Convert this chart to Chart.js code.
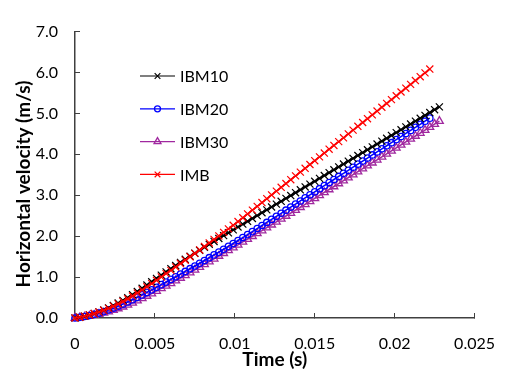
<!DOCTYPE html>
<html><head><meta charset="utf-8">
<script src="https://cdn.jsdelivr.net/npm/chart.js@4"></script>
<style>html,body{margin:0;padding:0;background:#fff}#wrap{width:516px;height:371px}</style>
</head><body><div id="wrap"><canvas id="c" width="516" height="371"></canvas></div>
<script>
// ---- data ----
const seriesNames = ['IBM10', 'IBM20', 'IBM30', 'IMB'];
const xTickValues = [0, 0.005, 0.01, 0.015, 0.02, 0.025];
const xTickLabels = ['0', '0.005', '0.01', '0.015', '0.02', '0.025'];
const yTickValues = [0, 1, 2, 3, 4, 5, 6, 7];
const yTickLabels = ['0.0', '1.0', '2.0', '3.0', '4.0', '5.0', '6.0', '7.0'];
const xTitle = 'Time (s)';
const yTitle = 'Horizontal velocity (m/s)';

const timeShort = [0, 0.0003, 0.0006, 0.0009, 0.0012, 0.0015, 0.0018, 0.0021, 0.0024, 0.0027, 0.003, 0.0033, 0.0036, 0.0039, 0.0042, 0.0045, 0.0048, 0.0051, 0.0054, 0.0057, 0.006, 0.0063, 0.0066, 0.0069, 0.0072, 0.0075, 0.0078, 0.0081, 0.0084, 0.0087, 0.009, 0.0093, 0.0096, 0.0099, 0.0102, 0.0105, 0.0108, 0.0111, 0.0114, 0.0117, 0.012, 0.0123, 0.0126, 0.0129, 0.0132, 0.0135, 0.0138, 0.0141, 0.0144, 0.0147, 0.015, 0.0153, 0.0156, 0.0159, 0.0162, 0.0165, 0.0168, 0.0171, 0.0174, 0.0177, 0.018, 0.0183, 0.0186, 0.0189, 0.0192, 0.0195, 0.0198, 0.0201, 0.0204, 0.0207, 0.021, 0.0213, 0.0216, 0.0219, 0.0222];
const timeLong = [0, 0.0003, 0.0006, 0.0009, 0.0012, 0.0015, 0.0018, 0.0021, 0.0024, 0.0027, 0.003, 0.0033, 0.0036, 0.0039, 0.0042, 0.0045, 0.0048, 0.0051, 0.0054, 0.0057, 0.006, 0.0063, 0.0066, 0.0069, 0.0072, 0.0075, 0.0078, 0.0081, 0.0084, 0.0087, 0.009, 0.0093, 0.0096, 0.0099, 0.0102, 0.0105, 0.0108, 0.0111, 0.0114, 0.0117, 0.012, 0.0123, 0.0126, 0.0129, 0.0132, 0.0135, 0.0138, 0.0141, 0.0144, 0.0147, 0.015, 0.0153, 0.0156, 0.0159, 0.0162, 0.0165, 0.0168, 0.0171, 0.0174, 0.0177, 0.018, 0.0183, 0.0186, 0.0189, 0.0192, 0.0195, 0.0198, 0.0201, 0.0204, 0.0207, 0.021, 0.0213, 0.0216, 0.0219, 0.0222, 0.0225, 0.0228];

const ibm10 = [0, 0.02, 0.045, 0.074, 0.108, 0.149, 0.195, 0.248, 0.305, 0.366, 0.43, 0.498, 0.571, 0.648, 0.727, 0.806, 0.886, 0.967, 1.047, 1.126, 1.205, 1.282, 1.358, 1.434, 1.509, 1.583, 1.656, 1.729, 1.8, 1.871, 1.943, 2.013, 2.083, 2.153, 2.224, 2.294, 2.363, 2.433, 2.503, 2.573, 2.643, 2.713, 2.783, 2.853, 2.923, 2.993, 3.063, 3.133, 3.203, 3.273, 3.342, 3.412, 3.482, 3.552, 3.622, 3.692, 3.762, 3.832, 3.902, 3.972, 4.042, 4.112, 4.182, 4.252, 4.322, 4.392, 4.461, 4.531, 4.601, 4.671, 4.741, 4.811, 4.881, 4.951, 5.021, 5.091, 5.161];
const ibm20 = [0, 0.017, 0.037, 0.061, 0.089, 0.121, 0.156, 0.196, 0.24, 0.287, 0.338, 0.391, 0.447, 0.505, 0.565, 0.626, 0.688, 0.751, 0.815, 0.879, 0.943, 1.008, 1.073, 1.138, 1.205, 1.271, 1.338, 1.405, 1.474, 1.542, 1.61, 1.68, 1.751, 1.821, 1.894, 1.966, 2.039, 2.112, 2.187, 2.261, 2.335, 2.41, 2.485, 2.56, 2.635, 2.71, 2.785, 2.86, 2.935, 3.01, 3.085, 3.16, 3.235, 3.31, 3.385, 3.46, 3.535, 3.61, 3.685, 3.76, 3.835, 3.91, 3.985, 4.06, 4.135, 4.21, 4.285, 4.36, 4.435, 4.51, 4.585, 4.66, 4.735, 4.81, 4.885];
const ibm30 = [0, 0.014, 0.029, 0.048, 0.07, 0.095, 0.124, 0.156, 0.192, 0.232, 0.275, 0.322, 0.371, 0.424, 0.48, 0.538, 0.597, 0.659, 0.722, 0.785, 0.848, 0.913, 0.978, 1.043, 1.11, 1.176, 1.243, 1.31, 1.378, 1.447, 1.515, 1.583, 1.652, 1.72, 1.789, 1.859, 1.928, 1.998, 2.068, 2.138, 2.208, 2.279, 2.35, 2.421, 2.493, 2.564, 2.635, 2.707, 2.779, 2.851, 2.924, 2.996, 3.069, 3.141, 3.214, 3.287, 3.359, 3.432, 3.504, 3.577, 3.65, 3.722, 3.795, 3.867, 3.94, 4.013, 4.085, 4.158, 4.23, 4.303, 4.376, 4.448, 4.521, 4.593, 4.666, 4.739, 4.811];
const imb = [0, 0.02, 0.045, 0.074, 0.108, 0.146, 0.189, 0.236, 0.288, 0.344, 0.405, 0.47, 0.538, 0.61, 0.685, 0.763, 0.841, 0.922, 1.003, 1.085, 1.165, 1.248, 1.33, 1.413, 1.496, 1.58, 1.664, 1.748, 1.834, 1.92, 2.005, 2.092, 2.179, 2.266, 2.357, 2.45, 2.543, 2.636, 2.729, 2.822, 2.915, 3.008, 3.101, 3.194, 3.287, 3.38, 3.473, 3.566, 3.659, 3.752, 3.845, 3.938, 4.031, 4.125, 4.218, 4.311, 4.405, 4.498, 4.591, 4.685, 4.778, 4.871, 4.964, 5.058, 5.151, 5.244, 5.338, 5.431, 5.524, 5.617, 5.711, 5.804, 5.897, 5.991, 6.084];

// ---- build ----
function pts(t, v) { return v.map((y, i) => ({ x: t[i], y: y })); }
const FONT = 'Lato, "Open Sans", sans-serif';
const AX = '#404040';

const datasets = [
  { label: seriesNames[0], data: pts(timeLong, ibm10), borderColor: '#000000', backgroundColor: 'rgba(0,0,0,0)', borderWidth: 2,
    pointStyle: 'crossRot', pointRadius: 5, pointBorderWidth: 1.2, legendRadius: 4, order: 2 },
  { label: seriesNames[1], data: pts(timeShort, ibm20), borderColor: '#0000ff', backgroundColor: 'rgba(0,0,0,0)', borderWidth: 1.5,
    pointStyle: 'circle', pointRadius: 3.2, pointBorderWidth: 1.3, legendRadius: 3, order: 3 },
  { label: seriesNames[2], data: pts(timeLong, ibm30), borderColor: '#a0289f', backgroundColor: 'rgba(0,0,0,0)', borderWidth: 1.5,
    pointStyle: 'triangle', pointRadius: 4.5, pointBorderWidth: 1.3, legendRadius: 4, order: 4 },
  { label: seriesNames[3], data: pts(timeShort, imb), borderColor: '#ff0000', backgroundColor: 'rgba(0,0,0,0)', borderWidth: 1.5,
    pointStyle: 'crossRot', pointRadius: 5, pointBorderWidth: 1.2, legendRadius: 4, order: 1 }
];
datasets.forEach(d => { d.showLine = true; d.clip = false; d.tension = 0; d.pointHoverRadius = d.pointRadius; });

const decor = {
  id: 'decor',
  afterDraw(chart) {
    const ctx = chart.ctx;
    ctx.save();
    // y axis title
    ctx.font = 'bold 19px ' + FONT;
    ctx.fillStyle = '#000';
    ctx.textAlign = 'center';
    ctx.textBaseline = 'middle';
    ctx.translate(24, 184);
    ctx.rotate(-Math.PI / 2);
    ctx.fillText(yTitle, 0, 0);
    ctx.restore();
    // legend
    const lx = 140, len = 35, ly0 = 76, gap = 32.8;
    chart.data.datasets.forEach((d, i) => {
      const y = ly0 + i * gap;
      ctx.save();
      ctx.strokeStyle = d.borderColor;
      ctx.lineWidth = 1.2;
      ctx.beginPath(); ctx.moveTo(lx, y); ctx.lineTo(lx + len, y); ctx.stroke();
      ctx.fillStyle = d.backgroundColor;
      ctx.lineWidth = d.pointBorderWidth;
      Chart.helpers.drawPoint(ctx, { pointStyle: d.pointStyle, radius: d.legendRadius, borderWidth: d.pointBorderWidth, rotation: 0 }, lx + len / 2, y);
      ctx.fillStyle = '#000';
      ctx.font = '16px ' + FONT;
      ctx.textAlign = 'left';
      ctx.textBaseline = 'middle';
      ctx.fillText(d.label, lx + len + 5, y + 1);
      ctx.restore();
    });
  }
};

new Chart(document.getElementById('c'), {
  type: 'scatter',
  data: { datasets },
  plugins: [decor],
  options: {
    responsive: false, animation: false, devicePixelRatio: 1,
    layout: { padding: { top: 15, right: 21, left: 0, bottom: 0 } },
    plugins: { legend: { display: false }, tooltip: { enabled: false } },
    scales: {
      x: {
        type: 'linear', min: 0, max: 0.025,
        afterBuildTicks: s => { s.ticks = xTickValues.map(v => ({ value: v })); },
        afterFit: s => { s.height = 53; },
        ticks: { callback: (v, i) => xTickLabels[i], font: { family: FONT, size: 16 }, color: '#000', padding: 21, maxRotation: 0, autoSkip: false },
        grid: { drawOnChartArea: false, drawTicks: true, tickLength: -5, color: AX, lineWidth: 1 },
        border: { display: true, color: AX, width: 1.5 },
        title: { display: true, text: xTitle, font: { family: FONT, size: 19, weight: 'bold' }, color: '#000', padding: 0 }
      },
      y: {
        type: 'linear', min: 0, max: 7,
        afterBuildTicks: s => { s.ticks = yTickValues.map(v => ({ value: v })); },
        afterFit: s => { s.width = 75; },
        ticks: { callback: (v, i) => yTickLabels[i], font: { family: FONT, size: 16 }, color: '#000', padding: 22, autoSkip: false },
        grid: { drawOnChartArea: false, drawTicks: true, tickLength: -5, color: AX, lineWidth: 1 },
        border: { display: true, color: AX, width: 1.5 }
      }
    }
  }
});
</script></body></html>
